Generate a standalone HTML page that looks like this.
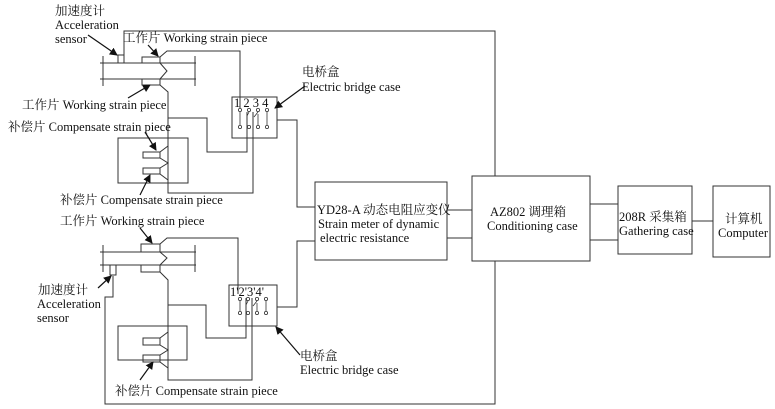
<!DOCTYPE html>
<html><head><meta charset="utf-8"><style>
html,body{margin:0;padding:0;background:#fff;}
svg{display:block;}
text{font-family:"Liberation Serif","Noto Serif CJK SC",serif;font-size:12.5px;fill:#111;}
.s{font-size:12.5px;}
</style></head><body>
<svg width="775" height="409" viewBox="0 0 775 409" xmlns="http://www.w3.org/2000/svg">
<defs><marker id="a" markerWidth="8" markerHeight="8" refX="7" refY="4" orient="auto" markerUnits="userSpaceOnUse"><path d="M0,0 L8,4 L0,8 z" fill="#111"/></marker></defs>
<g fill="none" stroke="#333" stroke-width="1">
<polyline points="124,55 124,31 495,31 495,176"/>
<polyline points="495,261 495,404 105,404 105,297 113,297 113,276"/>
<line x1="100" y1="63" x2="196" y2="63"/><line x1="100" y1="79" x2="196" y2="79"/>
<polyline points="103,56 103,86"/><polyline points="195,56 195,86"/>
<rect x="118" y="55" width="6" height="8"/>
<rect x="142" y="57" width="18" height="6"/><rect x="142" y="79" width="18" height="6"/>
<polyline points="160,57 167,51 240,51 240,108"/>
<polyline points="160,63 167,71 160,79"/>
<polyline points="160,85 168,92 168,193 253,193 253,112"/>
<polyline points="168,118 207,118 207,152 247,152 247,112"/>
<rect x="118" y="138" width="70" height="45"/>
<rect x="143" y="152" width="17" height="6"/><rect x="143" y="168" width="17" height="6"/>
<polyline points="160,152 168,146"/><polyline points="160,158 168,163 160,168"/><polyline points="160,174 168,180"/>
<rect x="232" y="97" width="45" height="41"/>
<polyline points="277,120 297,120 297,207 315,207"/>
<polyline points="315,241 297,241 297,307 277,307"/>
<rect x="315" y="182" width="132" height="78"/>
<line x1="447" y1="210" x2="472" y2="210"/><line x1="447" y1="238" x2="472" y2="238"/>
<rect x="472" y="176" width="118" height="85"/>
<line x1="590" y1="204" x2="618" y2="204"/><line x1="590" y1="240" x2="618" y2="240"/>
<rect x="618" y="186" width="74" height="68"/>
<line x1="692" y1="221" x2="713" y2="221"/>
<rect x="713" y="186" width="57" height="71"/>
<line x1="100" y1="252" x2="196" y2="252"/><line x1="100" y1="265" x2="196" y2="265"/>
<polyline points="103,245 103,272"/><polyline points="195,245 195,272"/>
<rect x="110" y="265" width="6" height="10"/>
<rect x="141" y="244" width="19" height="8"/><rect x="141" y="265" width="19" height="7"/>
<polyline points="160,244 167,238 238,238 238,294"/>
<polyline points="160,252 167,258 160,265"/>
<polyline points="160,272 168,280 168,380 252,380 252,298"/>
<polyline points="168,305 206,305 206,338 246,338 246,298"/>
<rect x="118" y="326" width="69" height="34"/>
<rect x="143" y="338" width="17" height="7"/><rect x="143" y="355" width="17" height="7"/>
<polyline points="160,338 168,332"/><polyline points="160,345 168,350 160,355"/><polyline points="160,362 168,368"/>
<rect x="229" y="285" width="48" height="41"/>
</g>
<g fill="#fff" stroke="#333" stroke-width="0.8">
<circle cx="240" cy="110" r="1.6"/><circle cx="249" cy="110" r="1.6"/><circle cx="258" cy="110" r="1.6"/><circle cx="267" cy="110" r="1.6"/>
<circle cx="240" cy="127" r="1.6"/><circle cx="249" cy="127" r="1.6"/><circle cx="258" cy="127" r="1.6"/><circle cx="267" cy="127" r="1.6"/>
<circle cx="240" cy="299" r="1.6"/><circle cx="248" cy="299" r="1.6"/><circle cx="257" cy="299" r="1.6"/><circle cx="266" cy="299" r="1.6"/>
<circle cx="240" cy="313" r="1.6"/><circle cx="248" cy="313" r="1.6"/><circle cx="257" cy="313" r="1.6"/><circle cx="266" cy="313" r="1.6"/>
</g>
<g stroke="#333" stroke-width="0.8">
<line x1="240" y1="112" x2="240" y2="125"/><line x1="249" y1="112" x2="247" y2="116"/><line x1="258" y1="112" x2="254" y2="117"/><line x1="258" y1="114" x2="258" y2="125"/><line x1="267" y1="112" x2="267" y2="125"/>
<line x1="240" y1="301" x2="240" y2="311"/><line x1="248" y1="301" x2="246" y2="305"/><line x1="257" y1="301" x2="253" y2="306"/><line x1="257" y1="303" x2="257" y2="311"/><line x1="266" y1="301" x2="266" y2="311"/>
</g>
<g stroke="#111" stroke-width="1.2" marker-end="url(#a)">
<line x1="88" y1="35" x2="117" y2="55"/>
<line x1="148" y1="45" x2="158" y2="56"/>
<line x1="128" y1="98" x2="150" y2="85"/>
<line x1="145" y1="132" x2="156" y2="150"/>
<line x1="140" y1="195" x2="150" y2="175"/>
<line x1="305" y1="86" x2="275" y2="108"/>
<line x1="140" y1="228" x2="152" y2="243"/>
<line x1="98" y1="288" x2="111" y2="276"/>
<line x1="300" y1="355" x2="276" y2="327"/>
<line x1="140" y1="380" x2="153" y2="362"/>
</g>
<text x="55" y="15">加速度计</text>
<text x="55" y="29">Acceleration</text>
<text x="55" y="43">sensor</text>
<text x="123" y="42">工作片 Working strain piece</text>
<text x="22" y="109">工作片  Working strain piece</text>
<text x="8" y="131">补偿片 Compensate strain piece</text>
<text x="60" y="204">补偿片 Compensate strain piece</text>
<text x="302" y="76">电桥盒</text>
<text x="302" y="91">Electric bridge case</text>
<text x="234" y="107" class="s">1 2 3 4</text>
<text x="60" y="225">工作片  Working strain piece</text>
<text x="38" y="294">加速度计</text>
<text x="37" y="308">Acceleration</text>
<text x="37" y="322">sensor</text>
<text x="230" y="296" class="s">1'2'3'4'</text>
<text x="300" y="360">电桥盒</text>
<text x="300" y="374">Electric bridge case</text>
<text x="115" y="395">补偿片 Compensate strain piece</text>
<text x="317" y="214">YD28-A 动态电阻应变仪</text>
<text x="318" y="228">Strain meter of dynamic</text>
<text x="320" y="242">electric resistance</text>
<text x="490" y="216">AZ802 调理箱</text>
<text x="487" y="230">Conditioning case</text>
<text x="619" y="221">208R 采集箱</text>
<text x="619" y="235">Gathering case</text>
<text x="725" y="223">计算机</text>
<text x="718" y="237">Computer</text>
</svg>
</body></html>
